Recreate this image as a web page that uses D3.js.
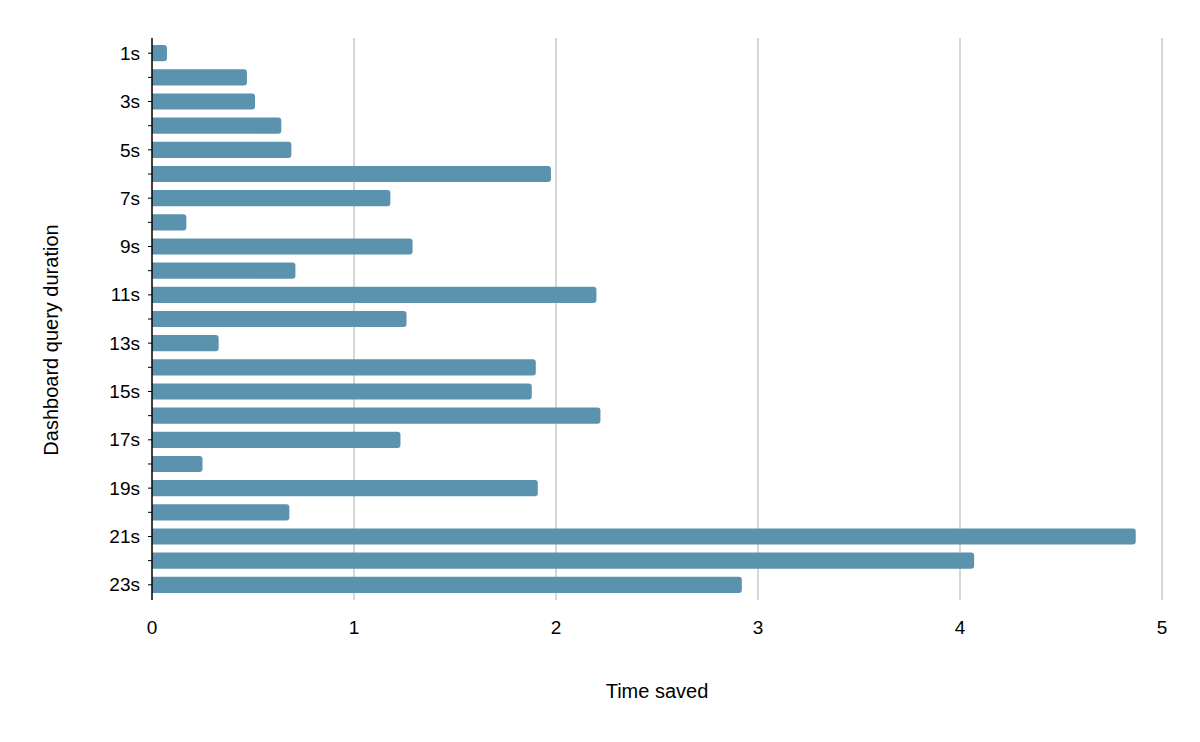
<!DOCTYPE html><html><head><script src="https://cdn.jsdelivr.net/npm/d3@7"></script>
<style>body{margin:0;background:#fff}text{font-family:"Liberation Sans",Arial,sans-serif}</style></head><body>
<svg id="c" width="1200" height="742"></svg>
<script>
const categories=d3.range(1,24).map(d=>d+"s");
const values=[0.074,0.47,0.51,0.64,0.69,1.975,1.18,0.17,1.29,0.71,2.20,1.26,0.33,1.90,1.88,2.22,1.23,0.25,1.91,0.68,4.87,4.07,2.92];
const xTicks=[0,1,2,3,4,5];
const svg=d3.select("#c");
const x=d3.scaleLinear().domain([0,5]).range([152,1162]);
const y=d3.scaleBand().domain(categories).range([41,597]).paddingInner(0.33).paddingOuter(0.17);
svg.append("g").selectAll("line").data(xTicks.slice(1)).join("line")
 .attr("x1",d=>x(d)).attr("x2",d=>x(d)).attr("y1",38).attr("y2",600).attr("stroke","#c8c8c8").attr("stroke-width",1.5);
svg.append("g").selectAll("path").data(values).join("path").attr("fill","#5b93ae")
 .attr("d",(v,i)=>{const x0=x(0),x1=x(v),y0=y(categories[i]),h=y.bandwidth(),r=Math.min(3,(x1-x0)/2);
  return `M${x0},${y0}H${x1-r}Q${x1},${y0} ${x1},${y0+r}V${y0+h-r}Q${x1},${y0+h} ${x1-r},${y0+h}H${x0}Z`;});
svg.append("line").attr("x1",152).attr("x2",152).attr("y1",38).attr("y2",600).attr("stroke","#000").attr("stroke-width",1.5);
svg.append("g").selectAll("line").data(categories).join("line")
 .attr("x1",148).attr("x2",152).attr("y1",d=>y(d)+y.bandwidth()/2).attr("y2",d=>y(d)+y.bandwidth()/2).attr("stroke","#000");
svg.append("g").selectAll("text").data(categories.filter((d,i)=>i%2==0)).join("text")
 .attr("x",140).attr("y",d=>y(d)+y.bandwidth()/2).attr("dy","0.35em").attr("text-anchor","end").attr("font-size",19).text(d=>d);
svg.append("g").selectAll("text").data(xTicks).join("text")
 .attr("x",d=>x(d)).attr("y",634).attr("text-anchor","middle").attr("font-size",19).text(d=>d);
svg.append("text").attr("x",657).attr("y",698).attr("text-anchor","middle").attr("font-size",20).text("Time saved");
svg.append("text").attr("transform","translate(58,340) rotate(-90)").attr("text-anchor","middle").attr("font-size",20).text("Dashboard query duration");
</script></body></html>
